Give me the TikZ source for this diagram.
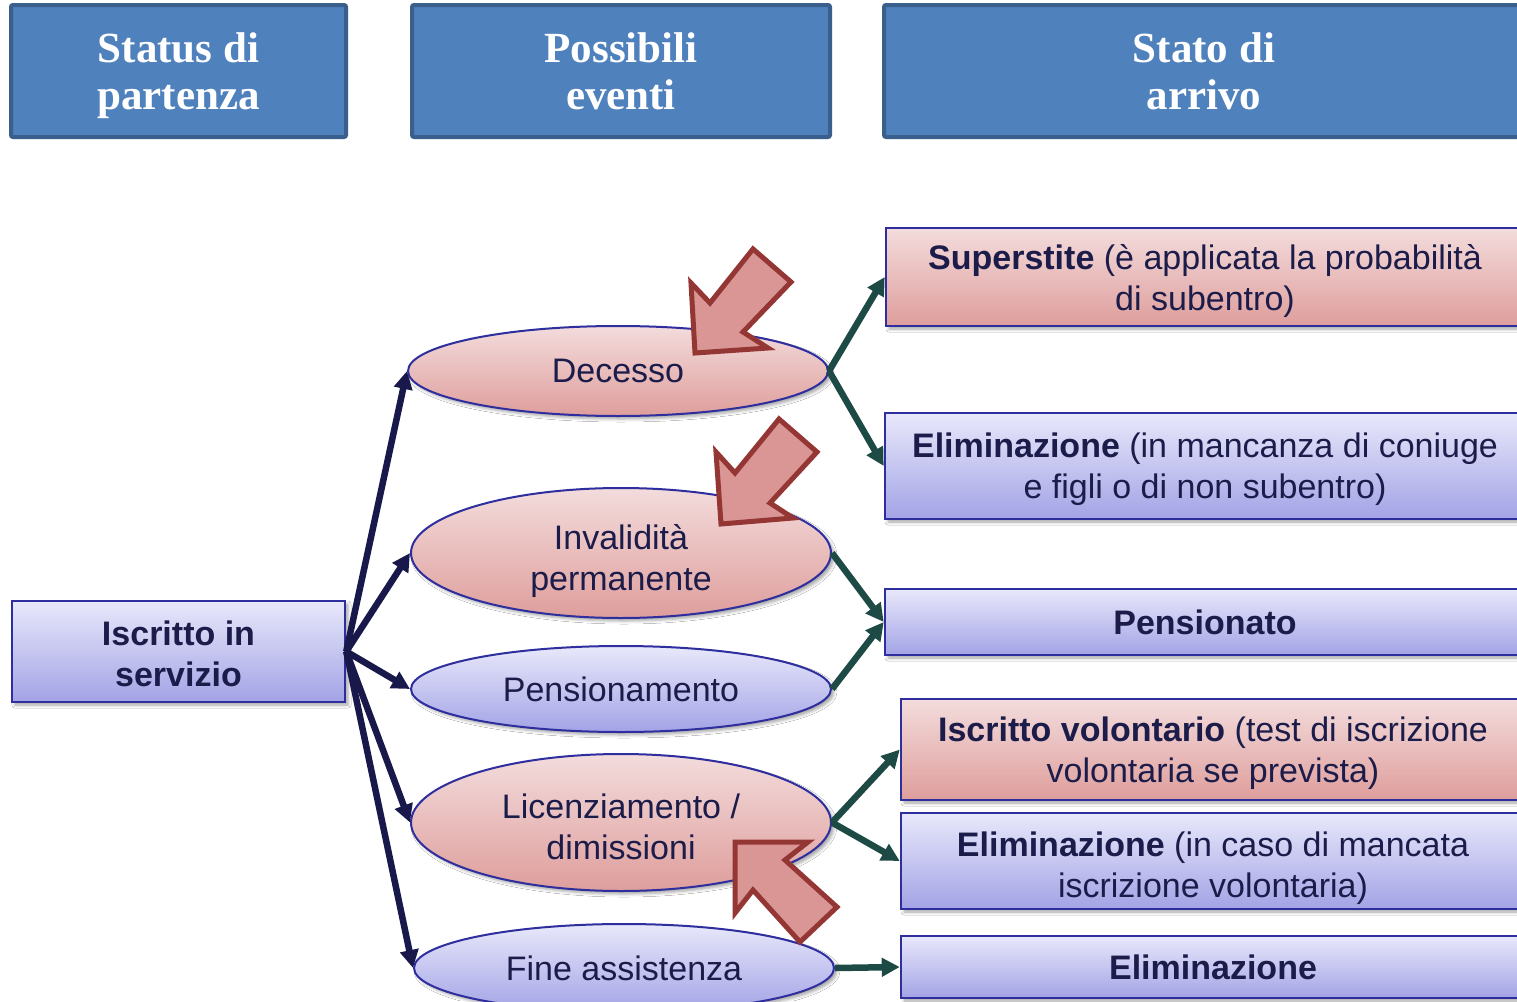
\documentclass[tikz,border=0pt]{standalone}
\usepackage{fontspec}
\setmainfont{Liberation Sans}
\newfontfamily\hdfont{Liberation Serif}
\usetikzlibrary{shapes.geometric,arrows.meta,shadows.blur}
\definecolor{hdfill}{HTML}{4F81BD}
\definecolor{hdline}{HTML}{3B5F8D}
\definecolor{txtc}{HTML}{1C1C4A}
\definecolor{edgec}{HTML}{2E2E9E}
\definecolor{pinkt}{HTML}{F3DCDC}
\definecolor{pinkb}{HTML}{DE9E9C}
\definecolor{bluet}{HTML}{E8E8FB}
\definecolor{blueb}{HTML}{A3A3E6}
\definecolor{navyarr}{HTML}{18184A}
\definecolor{tealarr}{HTML}{1E4A46}
\definecolor{blkfill}{HTML}{D99694}
\definecolor{blkline}{HTML}{943634}
\begin{document}
\begin{tikzpicture}[x=1pt,y=-1pt,
  hdbox/.style={draw=hdline, line width=4pt, fill=hdfill, rounded corners=2pt, inner sep=0pt,
    minimum height=132pt},
  hdtext/.style={align=center, text=white, inner sep=0pt,
    font=\hdfont\bfseries\fontsize{43}{47}\selectfont},
  body/.style={font=\fontsize{34}{41}\selectfont, text=txtc, align=center, inner sep=0pt},
  shad/.style={blur shadow={shadow xshift=3pt, shadow yshift=-3pt, shadow blur radius=3pt, shadow opacity=35}},
  pinkell/.style={ellipse, draw=edgec, line width=2pt, top color=pinkt, bottom color=pinkb, inner sep=0pt, minimum width=420pt, body, shad},
  blueell/.style={ellipse, draw=edgec, line width=2pt, top color=bluet, bottom color=blueb, inner sep=0pt, minimum width=420pt, body, shad},
  pinkbox/.style={rectangle, draw=edgec, line width=2.5pt, top color=pinkt, bottom color=pinkb, inner sep=0pt, body, shad},
  bluebox/.style={rectangle, draw=edgec, line width=2.5pt, top color=bluet, bottom color=blueb, inner sep=0pt, body, shad},
  leftarr/.style={draw=navyarr, line width=6.5pt, -{Triangle[length=18pt,width=18pt]}},
  rightarr/.style={draw=tealarr, line width=6.5pt, -{Triangle[length=18pt,width=18pt]}},
  blockarr/.style={fill=blkfill, draw=blkline, line width=5pt, line join=miter}
]
\clip (0,0) rectangle (1517,1001);
\fill[white] (0,0) rectangle (1517,1001);

% headers
\node[hdbox, minimum width=335pt] (h1) at (178.5,71) {};
\node[hdtext] (h1t) at (178.5,76) {Status di\\partenza};
\node[hdbox, minimum width=418pt] (h2) at (621,71) {};
\node[hdtext] (h2t) at (621,71) {Possibili\\eventi};
\node[hdbox, minimum width=640pt] (h3) at (1204,71) {};
\node[hdtext] (h3t) at (1204,71) {Stato di\\arrivo};

% left box
\node[bluebox, minimum width=333pt, minimum height=101pt] (iscr) at (178.5,651.5) {};
\node[body, font=\bfseries\fontsize{34}{41}\selectfont] (iscrt) at (178.5,653.5) {Iscritto in\\servizio};

% ellipses
\node[pinkell, minimum height=90pt] (e1) at (618,371) {Decesso};
\node[pinkell, minimum height=130pt] (e2) at (621,553) {};
\node[body] (e2t) at (621,561) {Invalidità\\permanente};
\node[blueell, minimum height=86pt] (e3) at (621,689) {Pensionamento};
\node[pinkell, minimum height=137pt] (e4) at (621,822.5) {};
\node[body] (e4t) at (621,826.5) {Licenziamento /\\dimissioni};
\node[blueell, minimum height=88pt] (e5) at (624,968) {Fine assistenza};

% right boxes
\node[pinkbox, minimum width=638pt, minimum height=98pt] (r1) at (1205,277) {};
\node[body] (r1t) at (1205,281) {\textbf{Superstite} (è applicata la probabilità\\di subentro)};
\node[bluebox, minimum width=640pt, minimum height=106pt] (r2) at (1205,466) {};
\node[body] (r2t) at (1205,469) {\textbf{Eliminazione} (in mancanza di coniuge\\e figli o di non subentro)};
\node[bluebox, minimum width=640pt, minimum height=66pt] (r3) at (1205,622) {\textbf{Pensionato}};
\node[pinkbox, minimum width=624pt, minimum height=101pt] (r4) at (1213,749.5) {};
\node[body] (r4t) at (1213,753.5) {\textbf{Iscritto volontario} (test di iscrizione\\volontaria se prevista)};
\node[bluebox, minimum width=624pt, minimum height=96pt] (r5) at (1213,861) {};
\node[body] (r5t) at (1213,868) {\textbf{Eliminazione} (in caso di mancata\\iscrizione volontaria)};
\node[bluebox, minimum width=624pt, minimum height=62pt] (r6) at (1213,967) {\textbf{Eliminazione}};

% connectors
\draw[leftarr] (iscr.east) -- (e1.west);
\draw[leftarr] (iscr.east) -- (e2.west);
\draw[leftarr] (iscr.east) -- (e3.west);
\draw[leftarr] (iscr.east) -- (e4.west);
\draw[leftarr] (iscr.east) -- (e5.west);
\draw[rightarr] (e1.east) -- (r1.west);
\draw[rightarr] (e1.east) -- (r2.west);
\draw[rightarr] (e2.east) -- (r3.west);
\draw[rightarr] (e3.east) -- (r3.west);
\draw[rightarr] (e4.east) -- (r4.west);
\draw[rightarr] (e4.east) -- (r5.west);
\draw[rightarr] (e5.east) -- (r6.west);

% block arrows
\draw[blockarr] (695,353) -- (691,283) -- (710,303) -- (753,249) -- (791,282) -- (743,332) -- (768,348) -- cycle;
\draw[blockarr] (721,524) -- (716,452) -- (735,473) -- (779,419) -- (817,452) -- (770,503) -- (793,518) -- cycle;
\draw[blockarr] (735,842) -- (808,842) -- (785,860) -- (837,907) -- (800,942) -- (753,890) -- (735,913) -- cycle;
\end{tikzpicture}
\end{document}
